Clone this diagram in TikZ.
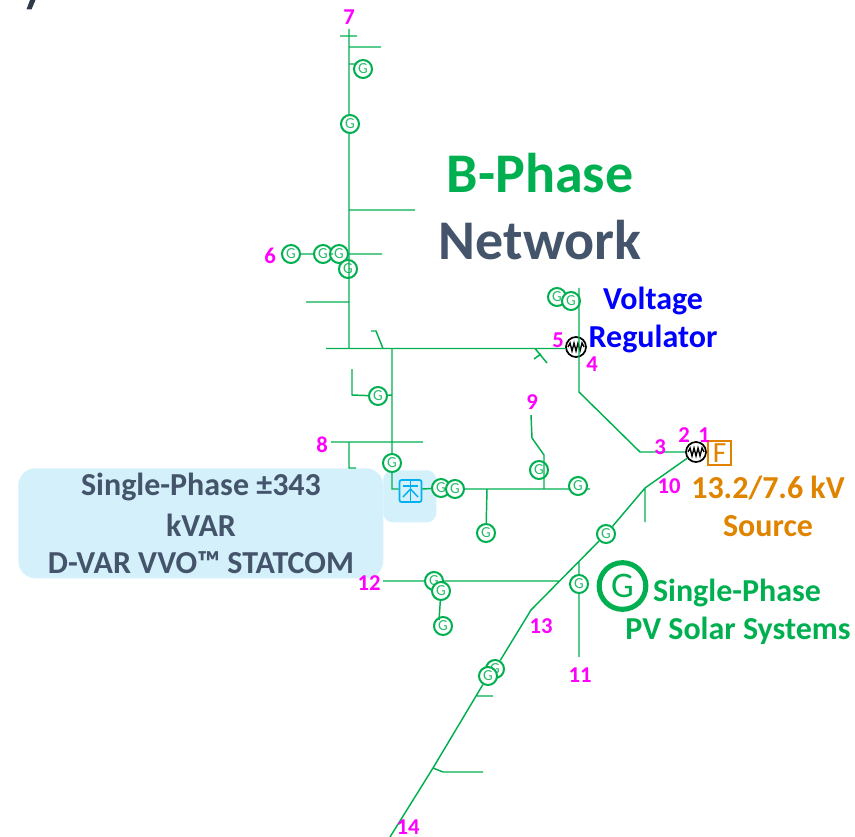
\documentclass[tikz,border=0pt]{standalone}
\usepackage{fontspec}
\setmainfont{Carlito}
\definecolor{lg}{HTML}{00B050}
\definecolor{slate}{HTML}{44546A}
\definecolor{mag}{HTML}{FF00FF}
\definecolor{org}{HTML}{E08400}
\definecolor{pale}{HTML}{D3F0FB}
\definecolor{cy}{HTML}{00B0F0}
\tikzset{
  x=0.75pt,y=-0.75pt,
  wire/.style={draw=lg,line width=1.1pt},
  gen/.style={circle,draw=lg,fill=white,line width=1.5pt,minimum size=13.5pt,inner sep=0pt,text=lg!85!white,font=\fontsize{11.5}{11.5}\selectfont},
  reg/.style={circle,draw=black,fill=white,line width=1.3pt,minimum size=15pt,inner sep=0pt},
  num/.style={text=mag,font=\bfseries\fontsize{17}{17}\selectfont,inner sep=0pt},
  paleb/.style={fill=pale,draw=none,rounded corners=13pt},
  big/.style={font=\bfseries\fontsize{42}{42}\selectfont,inner sep=0pt},
  mid/.style={font=\bfseries\fontsize{24}{24}\selectfont,inner sep=0pt},
}
\begin{document}
\begin{tikzpicture}
\useasboundingbox (0,0) rectangle (855,837);
\fill[slate!70!black] (30,0)--(35.5,0)--(31.5,9.5)--(26.5,9.5)--cycle;
% panels
\node[paleb,minimum width=273.75pt,minimum height=82.5pt,inner sep=0pt,anchor=north west] (panelA) at (18,468) {};
\node[paleb,rounded corners=7pt,minimum width=39.75pt,minimum height=39pt,inner sep=0pt,anchor=north west] (panelB) at (383,470) {};
% junctions
\foreach \n/\x/\y in {top/349/29,t1a/340/36,t1b/357/36,b47/349/47,b47e/381/47,b64/349/64,b64e/356/64,
 v1/349/116,v2/349/132,b210/349/210,b210e/415/210,b254e/382/254,b254/349/254,w254/281/254,b302/349/302,b302w/306/302,
 h349/349/348.5,h349w/326/348.5,hr/566/348.5,j392/392/348.5,sa/383/348.5,sb/376/331,sc/371/331,
 ta/535/348.5,tb/547/363,tc/534/359,td/541/354,
 rta/579/288,bend/579/392,bendb/640/452,
 j395/392/395,l1/352/369,l2/352/395,j442/392/442,w442/331/442,e442/423/442,m442/349/442,m468/349/468,m468e/356/468,
 c489/392/489,s1/463/489,s2/570/489,s3/586/489,e589/590/489,d489/487/489,u489/544/489,u455/544/455,u440/532/438,u415/531/415,
 f1/645/488,f1e/645/522,f2/579/561,f3/579/657,fa/560/581,fb/383/581,
 kink/531/610,k2/433/768,k2a/443/772,k2b/483/772,bot/390/837,kc/477/696,kd/493/696,gv/439/620}
 {\coordinate (\n) at (\x,\y);}
% generators, back to front
\foreach \n/\x/\y in {g1/363/69,g2/350/124,g3/291/254,g4/323/254,g5/339/254,g6/348/269,g7/557/297,g8/571/301,
 g9/378/396,g10/392/463,g11/441/488,g12/455/489,g13/539/470,g14/578/486,g15/486/533,g16/606/534,g17/579/584,
 g18/434/581,g19/441/591,g20/443/626,g21/495/669,g22/488/676}
 {\node[gen] (\n) at (\x,\y) {G};}
% regulators
\foreach \n/\x/\y in {rega/576/347,regb/696/452}{
 \node[reg] (\n) at (\x,\y) {};
 \draw[black,line width=1pt] (\x-8,\y)--(\x-6,\y-4)--(\x-4,\y+4)--(\x-2,\y-4)--(\x,\y+4)--(\x+2,\y-4)--(\x+4,\y+4)--(\x+6,\y-4)--(\x+8,\y);
}
% source
\node[draw=org,line width=1.1pt,minimum width=17pt,minimum height=18pt,inner sep=0pt,text=org,font=\fontsize{22}{22}\selectfont] (src) at (719.5,453) {F};
% statcom
\node[draw=cy,line width=1.3pt,rounded corners=1.5pt,minimum size=16.5pt,inner sep=0pt] (stat) at (410.5,491) {};
\draw[cy,line width=1.1pt] (403,486)--(418,486) (410.5,481)--(410.5,501);
\draw[cy,line width=1.1pt] (410.5,489)--(403,497) (410.5,489)--(418,497);
% big G
\node[circle,draw=lg,fill=white,line width=3.8pt,minimum size=35pt,inner sep=0pt,text=lg,font=\fontsize{27}{27}\selectfont] (gbig) at (622.5,586) {G};
% connectors
\path[wire]
 (top)--(v1) (t1a)--(t1b) (b47)--(b47e) (b64)--(b64e)
 (v2)--(h349) (b210)--(b210e) (w254)--(g3) (g3)--(g4) (g4)--(g5) (b254)--(b254e)
 (b302w)--(b302) (h349w)--(hr) (sa)--(sb)--(sc) (ta)--(tb) (tc)--(td)
 (rta)--(bend)--(bendb)--(regb)
 (j392)--(g10) (g9)--(j395) (l1)--(l2)--(g9) (w442)--(e442) (m442)--(m468)--(m468e)
 (g10)--(c489)--(stat.west|-c489) (stat.east|-s1)--(g11) (s1)--(s2) (s3)--(e589) (d489)--(g15) (u489)--(u455)--(u440)--(u415)
 (regb)--(f1)--(g16) (g16)--(kink)--(g21) (g22)--(k2)--(bot) (k2)--(k2a)--(k2b) (kc)--(kd)
 (f1)--(f1e) (f2)--(g17) (g17)--(f3) (fb)--(g18) (g18)--(fa) (g19)--(gv);
% labels
\foreach \n/\x/\y/\t in {n1/704/435/1,n2/684/435/2,n3/660/447/3,n4/592/364/4,n5/558/340/5,n6/270/256/6,n7/349/17/7,n8/322/445/8,n9/532/402/9,n10/669/486/10,n11/580/675/11,n12/369/583/12,n13/541/626/13,n14/408/827/14}
 {\node[num] (\n) at (\x,\y) {\t};}
\node[big,text=lg] (t1x) at (540,173.5) {B-Phase};
\node[big,text=slate] (t2x) at (540,240) {Network};
\node[mid,text=blue] (t3x) at (653,300.5) {Voltage};
\node[mid,text=blue] (t4x) at (653,338.5) {Regulator};
\node[mid,text=org] (t5x) at (768,488) {13.2/7.6 kV};
\node[mid,text=org] (t6x) at (768,526) {Source};
\node[mid,text=lg] (t7x) at (737,593) {Single-Phase};
\node[mid,text=lg] (t8x) at (738,631) {PV Solar Systems};
\node[mid,text=slate] (t9x) at (201,487) {Single-Phase ±343};
\node[mid,text=slate] (t10x) at (201,525) {kVAR};
\node[mid,text=slate] (t11x) at (201,563) {D-VAR VVO™ STATCOM};
\end{tikzpicture}
\end{document}
